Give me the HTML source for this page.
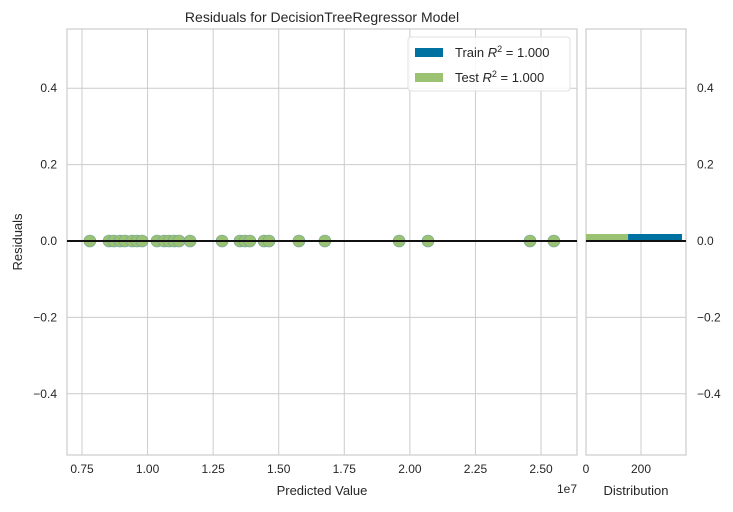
<!DOCTYPE html>
<html><head><meta charset="utf-8"><style>
body{margin:0;background:#fff;font-family:"Liberation Sans",sans-serif;}
svg text{font-family:"Liberation Sans",sans-serif;fill:#262626;}
</style></head><body>
<svg id="c" width="733" height="507" xmlns="http://www.w3.org/2000/svg">
<text x="322" y="22" font-size="14" text-anchor="middle">Residuals for DecisionTreeRegressor Model</text>
<g id="main"></g>
<g id="hist"></g>
</svg>
<script>
const xTicks=[0.75,1.00,1.25,1.50,1.75,2.00,2.25,2.50];
const yTicks=[-0.4,-0.2,0.0,0.2,0.4];
const predicted=[0.780,0.853,0.872,0.895,0.914,0.941,0.960,0.979,1.036,1.063,1.082,1.101,1.120,1.162,1.284,1.352,1.371,1.390,1.444,1.463,1.577,1.676,1.959,2.069,2.458,2.549];
const residuals=[0,0,0,0,0,0,0,0,0,0,0,0,0,0,0,0,0,0,0,0,0,0,0,0,0,0];
const histTicks=[0,200];
const trainCount=196;
const testCount=153;
const NS='http://www.w3.org/2000/svg';
const svg=document.getElementById('c'),main=document.getElementById('main'),hist=document.getElementById('hist');
const L=67,R=577,T=29,B=455,HL=586,HR=686;
const xs=v=>82+(v-0.75)*262.3;
const ys=v=>241-v*382;
const hs=v=>HL+v*0.275;
function el(p,t,a,txt){const e=document.createElementNS(NS,t);for(const k in a)e.setAttribute(k,a[k]);if(txt!==undefined)e.textContent=txt;p.appendChild(e);return e;}
[[L,R,main],[HL,HR,hist]].forEach(([l,r,g])=>{
 const bg=el(g,'rect',{x:l,y:T,width:r-l,height:B-T,fill:'#fff',stroke:'#cccccc','stroke-width':1.2});
 
 yTicks.forEach(t=>{const ln=el(g,'line',{x1:l,x2:r,y1:ys(t),y2:ys(t),stroke:'#cccccc'});
  });
});
xTicks.forEach(t=>{const x=xs(t);
 const ln=el(main,'line',{x1:x,x2:x,y1:T,y2:B,stroke:'#cccccc'});
 
 const tx=el(main,'text',{x:x,y:473,'font-size':12,'text-anchor':'middle'},t.toFixed(2));
 });
yTicks.forEach(t=>{const s=t.toFixed(1).replace('-','−');
 const a=el(main,'text',{x:57,y:ys(t)+4,'font-size':12,'text-anchor':'end'},s);
 
 const b=el(hist,'text',{x:697,y:ys(t)+4,'font-size':12},s);
 });
histTicks.forEach(t=>{const x=hs(t);
 const ln=el(hist,'line',{x1:x,x2:x,y1:T,y2:B,stroke:'#cccccc'});
 
 const tx=el(hist,'text',{x:x,y:473,'font-size':12,'text-anchor':'middle'},String(t));
 });
// histogram bars
const gb=el(hist,'rect',{x:hs(0),y:234,width:hs(testCount)-hs(0),height:7,fill:'#9bc272'});

const bb=el(hist,'rect',{x:hs(testCount),y:234,width:hs(testCount+trainCount)-hs(testCount),height:7,fill:'#0072a2'});

const hz=el(hist,'line',{x1:HL,x2:HR,y1:ys(0),y2:ys(0),stroke:'#111','stroke-width':2});

// points
predicted.forEach((p,i)=>{const c=el(main,'circle',{cx:xs(p),cy:ys(residuals[i]),r:6,fill:'#9bc272',stroke:'#6fa2a0','stroke-width':0.6});
 });
const zl=el(main,'line',{x1:L,x2:R,y1:ys(0),y2:ys(0),stroke:'#111','stroke-width':2});

// labels
const xl=el(main,'text',{x:322,y:495,'font-size':13,'text-anchor':'middle'},'Predicted Value');

const ex=el(main,'text',{x:577,y:493,'font-size':12,'text-anchor':'end'},'1e7');

const yl=el(main,'text',{x:22,y:242,'font-size':13,'text-anchor':'middle',transform:'rotate(-90 22 242)'},'Residuals');

const dl=el(hist,'text',{x:636,y:495,'font-size':13,'text-anchor':'middle'},'Distribution');

// legend
const lg=el(main,'g',{});

el(lg,'rect',{x:408,y:37,width:162,height:54,rx:3,fill:'#fff','fill-opacity':0.85,stroke:'#e0e0e0'});
[['Train','#0072a2',48],['Test','#9bc272',73]].forEach(([n,c,y])=>{
 const r=el(lg,'rect',{x:415,y:y,width:28,height:9,fill:c});
 
 const t=el(lg,'text',{x:455,y:y+9,'font-size':13});
 
 t.innerHTML=n+' <tspan font-style="italic">R</tspan><tspan dy="-5" font-size="9">2</tspan><tspan dy="5"> = 1.000</tspan>';
});
</script>
</body></html>
